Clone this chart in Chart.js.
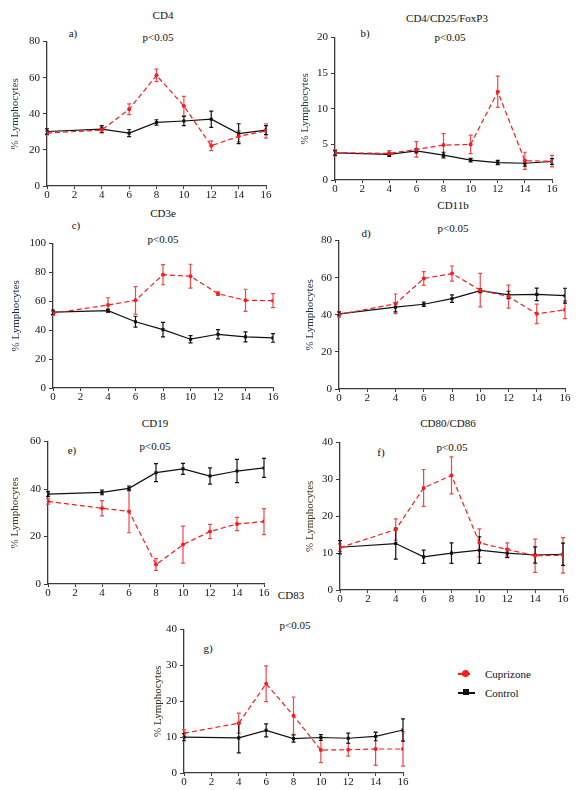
<!DOCTYPE html>
<html>
<head>
<meta charset="utf-8">
<script src="https://cdn.jsdelivr.net/npm/chart.js@4.4.1/dist/chart.umd.min.js"></script>
<style>
body { margin: 0; background: #fff; width: 581px; height: 790px; position: relative; overflow: hidden;
       font-family: "Liberation Serif", "Times New Roman", Times, serif; font-size: 11px; color: #111; }
canvas { position: absolute; }
.t { position: absolute; transform: translate(-50%, -50%); white-space: nowrap; }
.l { position: absolute; transform: translateY(-50%); white-space: nowrap; }
.mk { position: absolute; }
</style>
</head>
<body>
<div class="t" style="left:163px;top:15px">CD4</div>
<div class="t" style="left:73px;top:33px">a)</div>
<div class="t" style="left:158px;top:37px">p&lt;0.05</div>

<div class="t" style="left:447px;top:18px">CD4/CD25/FoxP3</div>
<div class="t" style="left:365px;top:33px">b)</div>
<div class="t" style="left:450px;top:37px">p&lt;0.05</div>

<div class="t" style="left:163px;top:213px">CD3e</div>
<div class="t" style="left:76px;top:225px">c)</div>
<div class="t" style="left:163px;top:239px">p&lt;0.05</div>

<div class="t" style="left:453px;top:205px">CD11b</div>
<div class="t" style="left:366px;top:233px">d)</div>
<div class="t" style="left:453px;top:228px">p&lt;0.05</div>

<div class="t" style="left:155px;top:423px">CD19</div>
<div class="t" style="left:72px;top:450px">e)</div>
<div class="t" style="left:155px;top:446px">p&lt;0.05</div>

<div class="t" style="left:448px;top:423px">CD80/CD86</div>
<div class="t" style="left:381px;top:452px">f)</div>
<div class="t" style="left:452px;top:447px">p&lt;0.05</div>

<div class="t" style="left:291px;top:595px">CD83</div>
<div class="t" style="left:208px;top:648px">g)</div>
<div class="t" style="left:295px;top:625px">p&lt;0.05</div>

<!-- legend -->
<div class="mk" style="left:458px;top:673px;width:12px;height:1.5px;background:#ff1a1a"></div>
<div class="mk" style="left:462px;top:670px;width:7px;height:7px;border-radius:50%;background:#ff1a1a"></div>
<div class="l" style="left:485px;top:674px">Cuprizone</div>
<div class="mk" style="left:458px;top:692px;width:17px;height:1.5px;background:#111"></div>
<div class="mk" style="left:463px;top:689px;width:6px;height:6px;background:#111"></div>
<div class="l" style="left:485px;top:693px">Control</div>

<script>
const weeks = [0, 4, 6, 8, 10, 12, 14, 16];

// a) CD4
const cd4Cup = [29.3, 31, 42.5, 61.3, 44.3, 22.3, 27.5, 30.5];
const cd4CupErr = [1, 1.5, 3, 3.5, 5.3, 2.7, 3, 4];
const cd4Ctl = [30.2, 31.5, 29.3, 35.2, 36, 37, 29, 31];
const cd4CtlErr = [1.5, 2, 2, 1.5, 2.5, 4.5, 5.5, 2.5];

// b) CD4/CD25/FoxP3
const tregCup = [3.83, 3.74, 4.3, 4.9, 5.0, 12.4, 2.7, 2.65];
const tregCupErr = [0.45, 0.4, 1.1, 1.6, 1.3, 2.2, 1.2, 0.8];
const tregCtl = [3.8, 3.6, 4.1, 3.5, 2.8, 2.45, 2.35, 2.6];
const tregCtlErr = [0.3, 0.3, 0.3, 0.4, 0.25, 0.3, 0.4, 0.4];

// c) CD3e
const cd3Cup = [51.8, 57.5, 60.7, 78.5, 77.4, 65.3, 60.7, 60.5];
const cd3CupErr = [1.5, 5, 9.5, 7, 8.3, 1.2, 7.7, 4.8];
const cd3Ctl = [52.5, 53.6, 45.9, 40.4, 33.8, 37.2, 35.4, 34.7];
const cd3CtlErr = [1.5, 1, 3.8, 5, 2.5, 3.2, 3.5, 3];

// d) CD11b
const cd11Cup = [40.2, 45.9, 59.6, 62.2, 53.3, 49.8, 40.5, 42.7];
const cd11CupErr = [1.5, 5.3, 3.7, 4.1, 9, 6.2, 5.3, 4.8];
const cd11Ctl = [40.5, 44.1, 45.7, 48.7, 53, 50.7, 51, 50.3];
const cd11CtlErr = [1, 2.5, 1.2, 2, 1, 2, 3.4, 4];

// e) CD19
const cd19Cup = [34.8, 31.9, 30.6, 8.2, 16.6, 22.1, 25.3, 26.3];
const cd19CupErr = [1.2, 3.2, 9, 2.5, 7.8, 3, 2.8, 5.5];
const cd19Ctl = [37.9, 38.6, 40.3, 46.9, 48.5, 45.5, 47.6, 48.9];
const cd19CtlErr = [1, 1, 1, 3.8, 2.3, 3.4, 4.9, 4];

// f) CD80/CD86
const cd80Cup = [11.5, 16.4, 27.7, 31.1, 12.8, 11, 9.3, 9.4];
const cd80CupErr = [1, 2.9, 5, 5, 3.8, 1.8, 4.5, 4.8];
const cd80Ctl = [11.6, 12.6, 9, 10, 10.8, 10, 9.5, 9.7];
const cd80CtlErr = [1.8, 4.2, 1.8, 2.8, 3.6, 1.2, 2.2, 3];

// g) CD83
const cd83Cup = [11.1, 13.9, 24.9, 16, 6.4, 6.5, 6.7, 6.7];
const cd83CupErr = [1, 2.8, 5, 5.2, 3.5, 1.8, 4.6, 4.8];
const cd83Ctl = [10, 9.8, 11.9, 9.6, 9.9, 9.7, 10.2, 12];
const cd83CtlErr = [1, 4.2, 1.8, 1, 0.8, 1.4, 1.2, 3.1];

const COLORS = {
    red: '#ff1a1a',
    redErr: '#f04848',
    black: '#111111',
    axis: '#3a3a3a',
    tick: '#151515',
};

const Y_W = 47, X_H = 20, PAD_T = 8, PAD_R = 10;
const FONT = { family: '"Liberation Serif", "Times New Roman", Times, serif', size: 11 };

// vertical error bars with small caps, drawn under the markers
const errorBars = {
    id: 'errorBars',
    beforeDatasetsDraw(chart) {
        const { ctx, scales: { x, y } } = chart;
        chart.data.datasets.forEach(ds => {
            ctx.save();
            ctx.strokeStyle = ds.errColor;
            ctx.lineWidth = 1.2;
            ds.data.forEach((pt, i) => {
                const e = ds.err[i];
                const px = x.getPixelForValue(pt.x);
                const top = y.getPixelForValue(pt.y + e);
                const bot = y.getPixelForValue(pt.y - e);
                ctx.beginPath();
                ctx.moveTo(px, top); ctx.lineTo(px, bot);
                ctx.moveTo(px - 2, top); ctx.lineTo(px + 2, top);
                ctx.moveTo(px - 2, bot); ctx.lineTo(px + 2, bot);
                ctx.stroke();
            });
            ctx.restore();
        });
    }
};

// box = [left, right, top, bottom] of the plot area in page pixels
function renderPanel(p) {
    const [L, R, T, B] = p.box;
    const cv = document.createElement('canvas');
    cv.width = R - L + Y_W + PAD_R;
    cv.height = B - T + PAD_T + X_H;
    cv.style.left = (L - Y_W) + 'px';
    cv.style.top = (T - PAD_T) + 'px';
    document.body.appendChild(cv);

    new Chart(cv, {
        type: 'line',
        data: {
            datasets: [
                {
                    label: 'Cuprizone',
                    data: weeks.map((w, i) => ({ x: w, y: p.cup[i] })),
                    err: p.cupErr,
                    errColor: COLORS.redErr,
                    borderColor: COLORS.red,
                    backgroundColor: COLORS.red,
                    borderWidth: 1.2,
                    borderDash: [5, 3],
                    pointRadius: 2,
                    pointBorderWidth: 0,
                },
                {
                    label: 'Control',
                    data: weeks.map((w, i) => ({ x: w, y: p.ctl[i] })),
                    err: p.ctlErr,
                    errColor: COLORS.black,
                    borderColor: COLORS.black,
                    backgroundColor: COLORS.black,
                    borderWidth: 1.2,
                    pointStyle: 'rect',
                    pointRadius: 2.2,
                    pointBorderWidth: 0,
                }
            ]
        },
        options: {
            responsive: false,
            animation: false,
            layout: { padding: { top: PAD_T, right: PAD_R, left: 0, bottom: 0 } },
            plugins: { legend: { display: false }, tooltip: { enabled: false } },
            scales: {
                x: {
                    type: 'linear', min: 0, max: 16,
                    ticks: { stepSize: 2, color: COLORS.tick, font: FONT, padding: 0, maxRotation: 0 },
                    grid: { drawOnChartArea: false, tickLength: 3, color: COLORS.axis },
                    border: { color: COLORS.axis, width: 1.3 },
                    afterFit: s => { s.height = X_H; }
                },
                y: {
                    min: 0, max: p.max,
                    ticks: { stepSize: p.step, color: COLORS.tick, font: FONT, padding: 3 },
                    grid: { drawOnChartArea: false, tickLength: 4, color: COLORS.axis },
                    border: { color: COLORS.axis, width: 1.3 },
                    title: { display: true, text: '% Lymphocytes', color: p.titleColor, font: FONT, padding: { top: p.tp, bottom: 0 } },
                    afterFit: s => { s.width = Y_W; }
                }
            }
        },
        plugins: [errorBars]
    });
}

renderPanel({ box: [47, 266, 40, 186], max: 80, step: 20, cup: cd4Cup, cupErr: cd4CupErr, ctl: cd4Ctl, ctlErr: cd4CtlErr, titleColor: '#1d3a3a', tp: 8.4 });
renderPanel({ box: [335, 552, 36, 180], max: 20, step: 5, cup: tregCup, cupErr: tregCupErr, ctl: tregCtl, ctlErr: tregCtlErr, titleColor: '#1f3b24', tp: 10.4 });
renderPanel({ box: [53, 273, 242, 388], max: 100, step: 20, cup: cd3Cup, cupErr: cd3CupErr, ctl: cd3Ctl, ctlErr: cd3CtlErr, titleColor: '#1c2850', tp: 3.4 });
renderPanel({ box: [339, 565, 239, 389], max: 80, step: 20, cup: cd11Cup, cupErr: cd11CupErr, ctl: cd11Ctl, ctlErr: cd11CtlErr, titleColor: '#1c2850', tp: 11.4 });
renderPanel({ box: [48, 264, 440, 584], max: 60, step: 20, cup: cd19Cup, cupErr: cd19CupErr, ctl: cd19Ctl, ctlErr: cd19CtlErr, titleColor: '#4a3318', tp: 7.4 });
renderPanel({ box: [340, 563, 441, 590], max: 40, step: 10, cup: cd80Cup, cupErr: cd80CupErr, ctl: cd80Ctl, ctlErr: cd80CtlErr, titleColor: '#4a3318', tp: 10.4 });
renderPanel({ box: [184, 403, 628, 773], max: 40, step: 10, cup: cd83Cup, cupErr: cd83CupErr, ctl: cd83Ctl, ctlErr: cd83CtlErr, titleColor: '#3a2a1a', tp: 14.4 });
</script>
</body>
</html>
